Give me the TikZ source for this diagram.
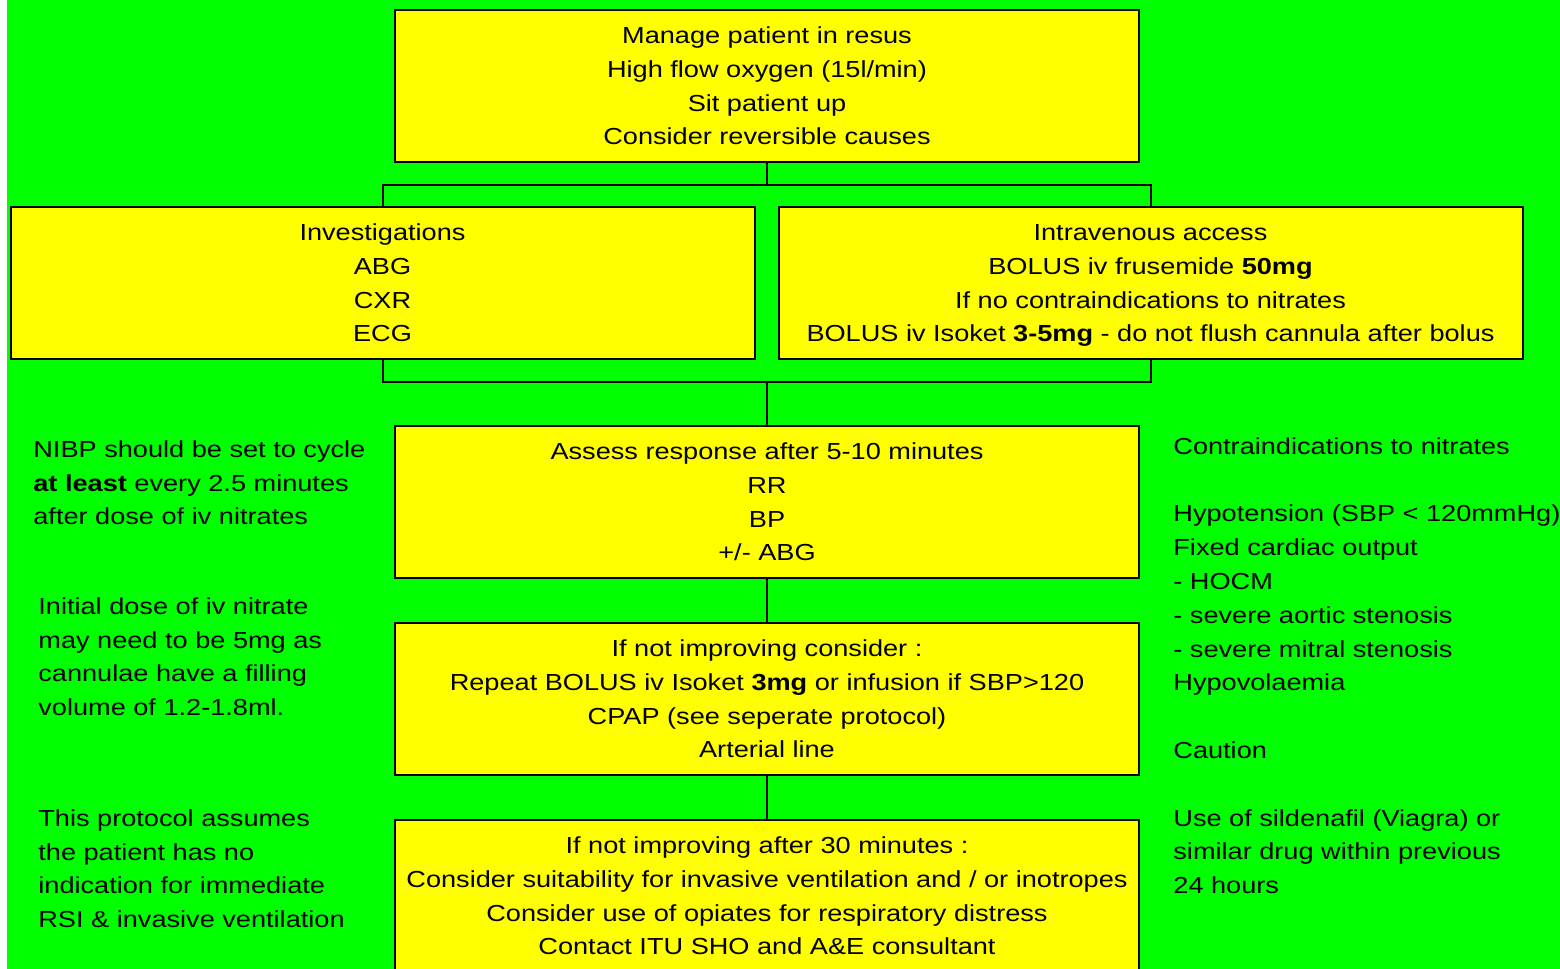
\documentclass[tikz,border=0pt]{standalone}
\usepackage{fontspec}
\setmainfont{Liberation Sans}[FakeStretch=1.17]
\usepackage{tikz}
\usepackage{xcolor}
\definecolor{bggreen}{RGB}{0,255,0}
\definecolor{boxyellow}{RGB}{255,255,0}
\newcommand{\boxstrut}{\rule{0pt}{10.8pt}}
\tikzset{
    flow-box/.style = {draw=black, fill=boxyellow, line width=1pt, rectangle, align=center, inner sep=0pt, minimum width=372pt, minimum height=76pt, font=\fontsize{11.6pt}{16.9pt}\selectfont, execute at end node={\rule[-2.6pt]{0pt}{0pt}}},
    side-note/.style = {anchor=north west, align=left, inner sep=0pt, font=\fontsize{11.6pt}{16.9pt}\selectfont},
    link/.style = {draw=black, line width=1pt},
}

\begin{document}
\begin{tikzpicture}[x=0.5pt, y=-0.5pt]
\useasboundingbox (0,0) rectangle (1560,969);
\clip (0,0) rectangle (1560,969);
\fill[white] (0,0) rectangle (1560,969);
\fill[bggreen] (7,0) rectangle (1560,969);

\node [flow-box] (resus) at (767,86) {\boxstrut Manage patient in resus\\ High flow oxygen (15l/min)\\ Sit patient up\\ Consider reversible causes};
\node [flow-box] (invest) at (382.5,283) {\boxstrut Investigations\\ ABG\\ CXR\\ ECG};
\node [flow-box] (access) at (1150.5,283) {\boxstrut Intravenous access\\ BOLUS iv frusemide \textbf{50mg}\\ If no contraindications to nitrates\\ BOLUS iv Isoket \textbf{3-5mg} - do not flush cannula after bolus};
\node [flow-box] (assess) at (767,502) {\boxstrut Assess response after 5-10 minutes\\ RR\\ BP\\ +/- ABG};
\node [flow-box] (repeat) at (767,699) {\boxstrut If not improving consider :\\ Repeat BOLUS iv Isoket \textbf{3mg} or infusion if SBP>120\\ CPAP (see seperate protocol)\\ Arterial line};
\node [flow-box] (escalate) at (767,896) {\boxstrut If not improving after 30 minutes :\\ Consider suitability for invasive ventilation and / or inotropes\\ Consider use of opiates for respiratory distress\\ Contact ITU SHO and A\&E consultant};

\coordinate (split) at (767,185);
\coordinate (merge) at (767,382);
\draw [link] (resus.south) -- (split) -| (invest.north);
\draw [link] (split) -| (access.north);
\draw [link] (invest.south) |- (merge) -| (access.south);
\draw [link] (merge) -- (assess.north);
\draw [link] (assess.south) -- (repeat.north);
\draw [link] (repeat.south) -- (escalate.north);

\node [side-note] (nibp) at (33,440) {NIBP should be set to cycle\\ \textbf{at least} every 2.5 minutes\\ after dose of iv nitrates};
\node [side-note] (dose) at (38,597) {Initial dose of iv nitrate\\ may need to be 5mg as\\ cannulae have a filling\\ volume of 1.2-1.8ml.};
\node [side-note] (assume) at (38,809) {This protocol assumes\\ the patient has no\\ indication for immediate\\ RSI \& invasive ventilation};
\node [side-note] (contra) at (1173,437) {Contraindications to nitrates\\[16.9pt] Hypotension (SBP < 120mmHg)\\ Fixed cardiac output\\ - HOCM\\ - severe aortic stenosis\\ - severe mitral stenosis\\ Hypovolaemia\\[16.9pt] Caution\\[16.9pt] Use of sildenafil (Viagra) or\\ similar drug within previous\\ 24 hours};
\end{tikzpicture}
\end{document}
